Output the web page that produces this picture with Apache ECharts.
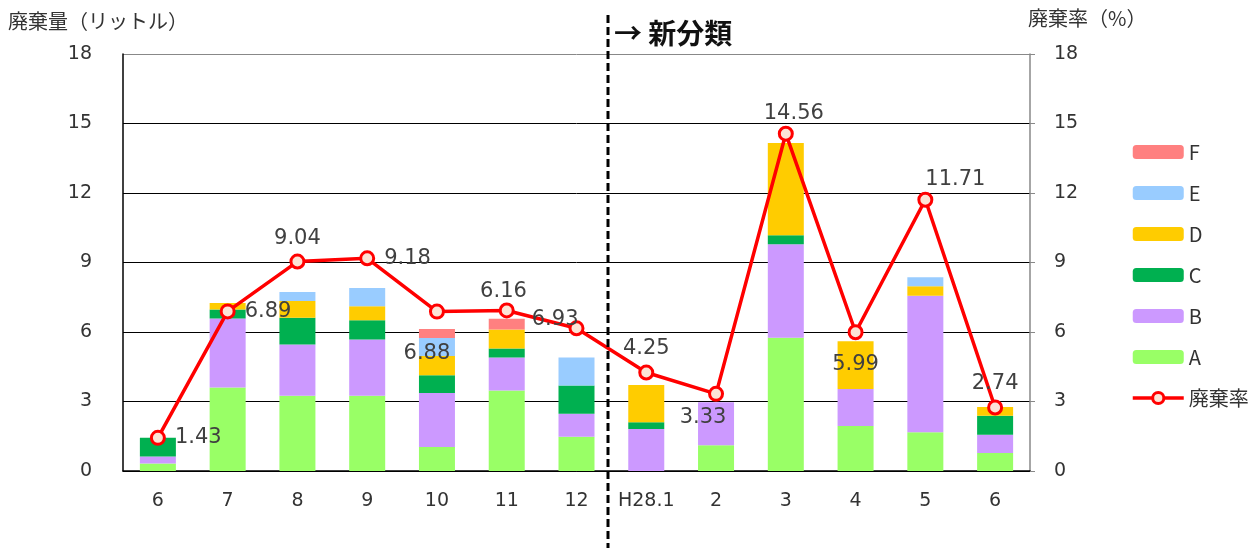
<!DOCTYPE html>
<html><head><meta charset="utf-8">
<script src="https://cdn.jsdelivr.net/npm/echarts@6/dist/echarts.min.js"></script>
<style>html,body{margin:0;padding:0;background:#fff}#c{width:1255px;height:548px}</style>
</head><body><div id="c"></div>
<script>
const categories = ['6','7','8','9','10','11','12','H28.1','2','3','4','5','6 '];
const seriesA = [0.32, 3.60, 3.25, 3.25, 1.04, 3.48, 1.48, 0, 1.11, 5.75, 1.94, 1.67, 0.78];
const seriesB = [0.31, 2.98, 2.21, 2.43, 2.33, 1.42, 0.99, 1.81, 1.86, 4.04, 1.60, 5.90, 0.78];
const seriesC = [0.81, 0.39, 1.15, 0.83, 0.76, 0.39, 1.22, 0.29, 0, 0.39, 0, 0, 0.83];
const seriesD = [0, 0.28, 0.73, 0.60, 0.83, 0.82, 0, 1.61, 0, 3.98, 2.06, 0.40, 0.37];
const seriesE = [0, 0, 0.39, 0.79, 0.78, 0, 1.21, 0, 0, 0, 0, 0.39, 0];
const seriesF = [0, 0, 0, 0, 0.39, 0.46, 0, 0, 0, 0, 0, 0, 0];
const rate = [1.43, 6.89, 9.04, 9.18, 6.88, 6.93, 6.16, 4.25, 3.33, 14.56, 5.99, 11.71, 2.74];
const yTicks = {min: 0, max: 18, interval: 3};

const FONT = 'DejaVu Sans, "Noto Sans CJK JP", sans-serif';
const JFONT = '"Noto Sans CJK JP", sans-serif';

// per-point label placement (style only)
const labelPos = [
  {position:'right', offset:[4,0]},
  {position:'right', offset:[4,0]},
  {position:'top', offset:[0,0]},
  {position:'right', offset:[4,0]},
  {position:'bottom', offset:[-10,18]},
  {position:'right', offset:[12,9]},
  {position:'top', offset:[-73,-13]},
  {position:'top', offset:[0,0]},
  {position:'bottom', offset:[-13,0]},
  {position:'top', offset:[8,3]},
  {position:'bottom', offset:[0,9]},
  {position:'top', offset:[30,3]},
  {position:'top', offset:[0,0]}
];

const chart = echarts.init(document.getElementById('c'), null, {renderer:'canvas'});
function barSeries(name, data, color){
  return {name, type:'bar', stack:'total', data, barWidth:36,
    itemStyle:{color}, emphasis:{disabled:true}, yAxisIndex:0};
}
const titles = [
  {type:'text', left:8, top:11, style:{text:'廃棄量（リットル）', font:'20px '+JFONT, fill:'#333'}},
  {type:'text', left:1028, top:8, style:{text:'廃棄率（%）', font:'20px '+JFONT, fill:'#333'}}
];
const option = {
  animation:false,
  textStyle:{fontFamily:FONT},
  grid:{left:123, right:225, top:54, bottom:77, containLabel:false},
  legend:{
    orient:'vertical', left:1126, top:137,
    itemWidth:51, itemHeight:14, itemGap:21,
    data:['F','E','D','C','B','A',
      {name:'廃棄率', itemStyle:{borderWidth:3}, lineStyle:{width:3.5}}],
    textStyle:{fontSize:20, color:'#333', fontFamily:JFONT},
    selectedMode:false
  },
  xAxis:{
    type:'category', data:categories,
    axisLine:{lineStyle:{color:'#000', width:1.5}},
    axisTick:{inside:true, length:5, interval:0, lineStyle:{color:'#000'}},
    axisLabel:{fontSize:19, color:'#333', margin:21, interval:0, fontFamily:FONT,
      formatter:v=>v.trim()},
    splitLine:{show:false}
  },
  yAxis:[
    {type:'value', ...yTicks, position:'left',
      axisLine:{show:true, lineStyle:{color:'#000', width:1.5}},
      axisTick:{show:false},
      axisLabel:{fontSize:19, color:'#333', margin:31, align:'right'},
      splitLine:{show:true, lineStyle:{color:['#000','#000','#000','#000','#000','#000','#888'], width:1}}
    },
    {type:'value', ...yTicks, position:'right',
      axisLine:{show:true, lineStyle:{color:'#888', width:1.5}},
      axisTick:{show:true, length:5, lineStyle:{color:'#888'}},
      axisLabel:{fontSize:19, color:'#333', margin:24},
      splitLine:{show:false}
    }
  ],
  series:[
    barSeries('A', seriesA, '#99FF66'),
    barSeries('B', seriesB, '#CC99FF'),
    barSeries('C', seriesC, '#00B050'),
    barSeries('D', seriesD, '#FFCC00'),
    barSeries('E', seriesE, '#99CCFF'),
    barSeries('F', seriesF, '#FF8080'),
    {name:'廃棄率', type:'line', yAxisIndex:1, z:10,
      data: rate.map((v,i)=>({value:v, label:labelPos[i]})),
      symbol:'circle', symbolSize:13,
      lineStyle:{color:'#FF0000', width:3.5},
      itemStyle:{color:'#FCE4D6', borderColor:'#FF0000', borderWidth:3},
      label:{show:true, fontSize:21, color:'#404040', fontFamily:FONT, distance:5},
      emphasis:{disabled:true}
    }
  ],
  graphic: titles
};
chart.setOption(option);

const x1 = chart.convertToPixel({xAxisIndex:0}, categories[6]);
const x2 = chart.convertToPixel({xAxisIndex:0}, categories[7]);
const xm = Math.round((x1 + x2) / 2) - 3;
chart.setOption({graphic: titles.concat([
  {type:'line', z:100, shape:{x1:xm, y1:15, x2:xm, y2:548},
    style:{stroke:'#000', lineWidth:3, lineDash:[8,4]}},
  {type:'text', z:100, x:xm+6, y:19, style:{text:'→ 新分類', font:'bold 28px '+JFONT, fill:'#111'}}
])}, {replaceMerge:['graphic']});
</script></body></html>
